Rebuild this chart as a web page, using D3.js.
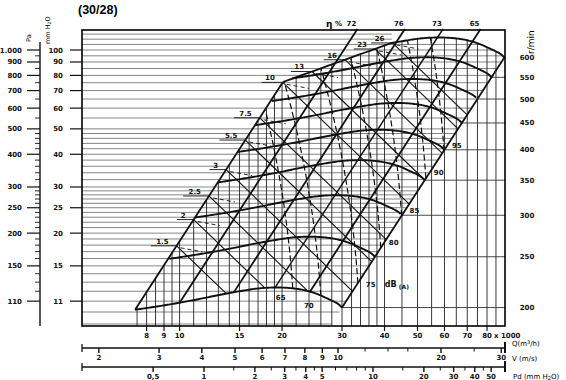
<!DOCTYPE html>
<html>
<head>
<meta charset="utf-8">
<script src="https://cdn.jsdelivr.net/npm/d3@7"></script>
<style>
  body { margin: 0; background: #fff; }
  svg { display: block; font-family: "DejaVu Sans", sans-serif; }
  .num { font-size: 7px; font-weight: bold; fill: #111; }
</style>
</head>
<body>
<div id="chart"></div>
<script>
var width = 566, height = 380;
var frame = { left: 82, right: 505, top: 30, bottom: 326 };

// ---- values ----
var qTicks = [8, 9, 10, 15, 20, 30, 40, 50, 60, 70, 80];          // Q x 1000 m3/h
var qGrid = [7.5, 8, 8.5, 9, 9.5, 10, 11, 12, 13, 14, 15, 16, 17, 18, 19, 20,
  22, 24, 26, 28, 30, 32, 34, 36, 38, 40, 45, 50, 55, 60, 65, 70, 75, 80, 85];
var mmTicks = [11, 15, 20, 25, 30, 40, 50, 60, 70, 80, 90, 100];  // mm H2O
var mmGrid = [9, 10, 11, 12, 13, 14, 15, 16, 17, 18, 19, 20, 21, 22, 23, 24, 25,
  26, 27, 28, 29, 30, 32, 34, 36, 38, 40, 42, 44, 46, 48, 50, 55, 60, 65, 70, 75,
  80, 85, 90, 95, 100, 105, 110, 115];
var paTicks = [110, 150, 200, 250, 300, 400, 500, 600, 700, 800, 900, 1000];
var paMinor = [120, 130, 140, 160, 170, 180, 190, 210, 220, 230, 240, 260, 270, 280,
  290, 320, 340, 360, 380, 420, 440, 460, 480, 550, 650, 750, 850, 950];
var rpmTicks = [200, 250, 300, 350, 400, 450, 500, 550, 600];
var vTicks = [2, 3, 4, 5, 6, 7, 8, 9, 10, 20, 30];                 // m/s
var vMinor = [12, 14, 16, 25];
var pdTicks = [0.5, 1, 2, 3, 4, 5, 10, 20, 30, 40, 50];            // mm H2O
var pdMinor = [1.5, 2.5, 3.5, 4.5, 6, 7, 8, 9, 15, 25, 35, 45];

// fan curve at 200 r/min (Q x1000 m3/h, p mm H2O)
var fanQ = [7.4, 9, 11, 13, 15, 17, 19, 21, 23, 25, 27, 29, 30];
var fanP = [10.2, 10.6, 11.1, 11.6, 12.0, 12.3, 12.4, 12.35, 12.15, 11.8, 11.3, 10.8, 10.4];

// efficiency lines: flow where each line reaches the top of the chart
var effLabels = ["72", "76", "73", "65"];
var effTopQ = [33.3, 45.9, 59.4, 76.6];

// absorbed power lines: label and flow where each leaves the envelope edge
var powerLabels = ["1.5", "2", "2.5", "3", "5.5", "7.5", "10", "13", "16", "23", "26"];
var powerStartQ = [9.8, 11.0, 12.2, 13.7, 15.6, 17.2, 20.1, 24.5, 30.6, 37.5, 42.2];

// sound level curves dB(A): flow at the lower end of each
var dbLabels = ["65", "70", "75", "80", "85", "90", "95"];
var dbEndQ = [21.5, 26, 33.4, 39, 44.9, 52.9, 59.8];

// envelope limits
var leftEdge = [7.4, 10.2];     // point on the left system curve
var rightEdge = [30, 10.4];     // point on the right system curve
var topEdgeQ = [20.1, 46], topEdgeP = [75.5, 111];

// ---- scales ----
var x = d3.scaleLog().domain([30, 80]).range([342, 487]);
var y = d3.scaleLog().domain([100, 10]).range([50, 312]);
var yPa = d3.scaleLog().domain([1000, 100]).range([50, 312]);
var yRpm = d3.scaleLog().domain([200, 600]).range([y(rightEdge[1]), y(rightEdge[1] * 9)]);
var xV = d3.scaleLog().domain([10, 20]).range([338, 441]);
var xPd = d3.scaleLog().domain([1, 10]).range([204, 373]);

var lg = Math.log10;

// smooth the base fan curve (catmull-rom in log space)
function smooth(xs, ys, steps) {
  var pts = xs.map(function(q, i) { return [lg(q), lg(ys[i])]; });
  var out = [];
  for (var i = 0; i < pts.length - 1; i++) {
    var p0 = pts[Math.max(i - 1, 0)], p1 = pts[i], p2 = pts[i + 1], p3 = pts[Math.min(i + 2, pts.length - 1)];
    for (var s = 0; s < steps; s++) {
      var t = s / steps, t2 = t * t, t3 = t2 * t;
      out.push([0, 1].map(function(j) {
        return 0.5 * (2 * p1[j] + (-p0[j] + p2[j]) * t + (2 * p0[j] - 5 * p1[j] + 4 * p2[j] - p3[j]) * t2 +
          (-p0[j] + 3 * p1[j] - 3 * p2[j] + p3[j]) * t3);
      }));
    }
  }
  out.push(pts[pts.length - 1]);
  return out;
}
var base = smooth(fanQ, fanP, 8);
var baseLQ = base.map(function(d) { return d[0]; });
var baseLP = base.map(function(d) { return d[1]; });

function arcP(n, Q) {
  var lk = lg(n / 200), lq = lg(Q) - lk;
  if (lq < baseLQ[0] || lq > baseLQ[baseLQ.length - 1]) return null;
  var i = Math.min(d3.bisectRight(baseLQ, lq) - 1, baseLQ.length - 2);
  var t = (lq - baseLQ[i]) / (baseLQ[i + 1] - baseLQ[i]);
  return Math.pow(10, baseLP[i] + t * (baseLP[i + 1] - baseLP[i]) + 2 * lk);
}
function pLeft(Q) { return leftEdge[1] * Math.pow(Q / leftEdge[0], 2); }
function pRight(Q) { return rightEdge[1] * Math.pow(Q / rightEdge[0], 2); }
function pTopEdge(Q) {
  var s = (lg(topEdgeP[1]) - lg(topEdgeP[0])) / (lg(topEdgeQ[1]) - lg(topEdgeQ[0]));
  return topEdgeP[0] * Math.pow(Q / topEdgeQ[0], s);
}
var nMin = rpmTicks[0], nMax = rpmTicks[rpmTicks.length - 1];
function pTop(Q) {
  var v = Math.min(pLeft(Q), pTopEdge(Q));
  var a = arcP(nMax, Q);
  if (a != null) v = Math.min(v, a);
  else if (Q > fanQ[fanQ.length - 1] * nMax / 200) v = Math.min(v, pRight(Q));
  return v;
}
function pBot(Q) {
  var a = arcP(nMin, Q);
  return a != null ? a : pRight(Q);
}
function logSteps(a, b, n) {
  return d3.range(n + 1).map(function(i) { return Math.pow(10, lg(a) + (lg(b) - lg(a)) * i / n); });
}

// where the top edge meets the highest speed curve
var qMin = x.invert(frame.left), qMax = x.invert(frame.right);
var qCross = logSteps(fanQ[0] * nMax / 200, qMax, 600).find(function(q) {
  var a = arcP(nMax, q);
  return a != null && pTopEdge(q) >= a;
});

var svg = d3.select("#chart").append("svg").attr("width", width).attr("height", height);

// title
svg.append("text").attr("x", 78).attr("y", 14)
  .style("font-family", "'Liberation Sans', Arial, sans-serif")
  .style("font-size", "12.5px").style("font-weight", "bold").text("(30/28)");

// ---- grid ----
var grid = svg.append("g");
mmGrid.forEach(function(p) {
  var yy = y(p);
  if (yy < frame.top + 1 || yy > frame.bottom - 1) return;
  var qs = logSteps(qMin, qMax, 800);
  var qEnd = qs.find(function(q) {
    if (p < pRight(q)) return true;
    var a = arcP(nMax, q);
    return q >= qCross && a != null && p > a;
  }) || qMax;
  grid.append("line")
    .attr("x1", frame.left).attr("x2", Math.min(x(qEnd), frame.right))
    .attr("y1", yy).attr("y2", yy)
    .attr("stroke", "#777").attr("stroke-width", 0.9);
});
qGrid.forEach(function(q) {
  grid.append("line")
    .attr("x1", x(q)).attr("x2", x(q))
    .attr("y1", frame.bottom).attr("y2", Math.max(y(pTop(q)), frame.top))
    .attr("stroke", "#222").attr("stroke-width", 0.9);
});
// speed leader lines to the right frame
rpmTicks.forEach(function(n) {
  var k = n / 200;
  grid.append("line")
    .attr("x1", x(rightEdge[0] * k)).attr("x2", frame.right)
    .attr("y1", yRpm(n)).attr("y2", yRpm(n))
    .attr("stroke", "#333").attr("stroke-width", 0.9);
});

var line = d3.line().x(function(d) { return x(d[0]); }).y(function(d) { return y(d[1]); });

// ---- envelope side limits ----
var marks = svg.append("g").attr("fill", "none").attr("stroke", "#111");
var qLeftTop = topEdgeQ[0];
marks.append("path").attr("stroke-width", 1.8)
  .attr("d", line([[leftEdge[0], leftEdge[1]], [qLeftTop, pLeft(qLeftTop)]]));
marks.append("path").attr("stroke-width", 1.8)
  .attr("d", line(logSteps(qLeftTop, qCross, 20).map(function(q) { return [q, pTopEdge(q)]; })));
marks.append("path").attr("stroke-width", 1.8)
  .attr("d", line([[rightEdge[0], rightEdge[1]], [rightEdge[0] * nMax / 200, pRight(rightEdge[0] * nMax / 200)]]));

// ---- fan curves ----
rpmTicks.forEach(function(n) {
  var k = n / 200;
  var pts = logSteps(fanQ[0] * k, fanQ[fanQ.length - 1] * k, 160)
    .map(function(q) { return [q, arcP(n, q)]; })
    .filter(function(d) { return d[1] != null && d[1] <= Math.min(pLeft(d[0]), pTopEdge(d[0])) * 1.002; });
  marks.append("path").attr("stroke-width", 1.9).attr("d", line(pts));
});

// ---- efficiency lines ----
effTopQ.forEach(function(qt, i) {
  var pt = y.invert(frame.top - 1);
  var c = pt / (qt * qt);
  var qb = logSteps(qt, 5, 800).find(function(q) { return c * q * q <= pBot(q); });
  marks.append("path").attr("stroke-width", i === 2 ? 1.4 : 1.8)
    .attr("d", line([[qt, pt], [qb, c * qb * qb]]));
  svg.append("text").attr("class", "num").attr("x", x(qt) - 6).attr("y", 26)
    .attr("text-anchor", "middle").text(effLabels[i]);
});
svg.append("text").attr("x", 326).attr("y", 27)
  .style("font-size", "9px").style("font-weight", "bold").text("η");
svg.append("text").attr("class", "num").attr("x", 335).attr("y", 26).text("%");

// ---- absorbed power lines ----
var powerExp = 1.25;
powerStartQ.forEach(function(q0, i) {
  var p0 = pTop(q0);
  var q1 = logSteps(q0, 200, 1200).find(function(q) {
    return p0 * Math.pow(q0 / q, powerExp) < pBot(q);
  });
  marks.append("path").attr("stroke-width", 1.1)
    .attr("d", line([[q0, p0], [q1, p0 * Math.pow(q0 / q1, powerExp)]]));
  var xs = x(q0), ys = y(p0);
  var lab = powerLabels[i];
  var tw = lab.length * 4.6;
  svg.append("text").attr("class", "num").attr("x", xs - 8).attr("y", ys - 2)
    .attr("text-anchor", "end").text(lab);
  marks.append("line").attr("stroke-width", 0.9)
    .attr("x1", xs - 12 - tw).attr("x2", xs).attr("y1", ys).attr("y2", ys);
  marks.append("line").attr("stroke-width", 0.9).attr("stroke-dasharray", "4,3")
    .attr("x1", xs + 4).attr("x2", xs + 26).attr("y1", ys + 2).attr("y2", ys + 6);
});

// ---- sound level curves ----
dbEndQ.forEach(function(qe, i) {
  var pe = pBot(qe);
  var pts = [];
  logSteps(pe, 130, 200).some(function(p) {
    var L = lg(p / pe);
    var q = qe * Math.pow(10, -0.05 * L - 0.1 * L * L);
    if (p > pTop(q)) return true;
    pts.push([q, p]);
    return false;
  });
  marks.append("path").attr("stroke-width", 1.2).attr("stroke-dasharray", "6,3")
    .attr("d", line(pts));
  var xe = x(qe), ye = y(pe);
  var onBottom = qe < rightEdge[0];
  var t = svg.append("text").attr("class", "num")
    .attr("x", onBottom ? xe - 12 : xe + 8)
    .attr("y", onBottom ? ye + 12 : ye + (i === 2 ? 4 : -3))
    .attr("text-anchor", onBottom ? "middle" : "start")
    .text(dbLabels[i]);
  if (i === 2) {
    svg.append("text").attr("class", "num").attr("x", xe + 27).attr("y", ye + 4)
      .style("font-size", "8px").text("dB");
    svg.append("text").attr("class", "num").attr("x", xe + 41).attr("y", ye + 6)
      .style("font-size", "6px").text("(A)");
  }
});

// ---- frame ----
svg.append("rect")
  .attr("x", frame.left).attr("y", frame.top)
  .attr("width", frame.right - frame.left).attr("height", frame.bottom - frame.top)
  .attr("fill", "none").attr("stroke", "#000").attr("stroke-width", 1.6);

// ---- left axes ----
var axes = svg.append("g").attr("stroke", "#111");
axes.append("line").attr("x1", 40).attr("x2", 40).attr("y1", 42).attr("y2", frame.bottom)
  .attr("stroke-width", 1.4);
paTicks.forEach(function(v) {
  axes.append("line").attr("x1", 27).attr("x2", 40).attr("y1", yPa(v)).attr("y2", yPa(v)).attr("stroke-width", 1.2);
  svg.append("text").attr("class", "num").attr("x", 22).attr("y", yPa(v) + 2.5)
    .attr("text-anchor", "end").text(v === 1000 ? "1.000" : v);
});
paMinor.forEach(function(v) {
  axes.append("line").attr("x1", 35).attr("x2", 40).attr("y1", yPa(v)).attr("y2", yPa(v)).attr("stroke-width", 0.9);
});
svg.append("text").attr("transform", "translate(31,42) rotate(-90)")
  .style("font-size", "6.5px").text("Pa");
mmTicks.forEach(function(v) {
  axes.append("line").attr("x1", 70).attr("x2", frame.left).attr("y1", y(v)).attr("y2", y(v)).attr("stroke-width", 1.2);
  svg.append("text").attr("class", "num").attr("x", 63).attr("y", y(v) + 2.5)
    .attr("text-anchor", "end").text(v);
});
svg.append("text").attr("transform", "translate(50,44) rotate(-90)")
  .style("font-size", "6.5px").html("mm H<tspan dy='1' font-size='4.5'>2</tspan><tspan dy='-1'>O</tspan>");

// ---- right speed axis ----
rpmTicks.forEach(function(n) {
  svg.append("text").attr("class", "num").attr("x", 527).attr("y", yRpm(n) + 2.5)
    .attr("text-anchor", "middle").text(n);
});
svg.append("text").attr("transform", "translate(534,54) rotate(-90)")
  .style("font-size", "9px").text("r/min");

// ---- bottom scales ----
qTicks.forEach(function(q) {
  axes.append("line").attr("x1", x(q)).attr("x2", x(q)).attr("y1", frame.bottom).attr("y2", frame.bottom + 5).attr("stroke-width", 1.2);
  svg.append("text").attr("class", "num").attr("x", x(q)).attr("y", 338)
    .attr("text-anchor", "middle").text(q);
});
svg.append("text").attr("class", "num").attr("x", x(80) + 7).attr("y", 338).text("x 1000");

function bottomScale(yLine, scale, ticks, minor, labelY, fmt) {
  axes.append("line").attr("x1", frame.left).attr("x2", frame.right).attr("y1", yLine).attr("y2", yLine).attr("stroke-width", 1.3);
  axes.append("line").attr("x1", frame.left).attr("x2", frame.left).attr("y1", yLine - 4).attr("y2", yLine + 4).attr("stroke-width", 1.3);
  axes.append("line").attr("x1", frame.right).attr("x2", frame.right).attr("y1", yLine - 6).attr("y2", yLine + 5).attr("stroke-width", 2);
  ticks.forEach(function(v) {
    axes.append("line").attr("x1", scale(v)).attr("x2", scale(v)).attr("y1", yLine).attr("y2", yLine + 5).attr("stroke-width", 1.4);
    svg.append("text").attr("class", "num").attr("x", scale(v)).attr("y", labelY)
      .attr("text-anchor", "middle").text(fmt(v));
  });
  minor.forEach(function(v) {
    axes.append("line").attr("x1", scale(v)).attr("x2", scale(v)).attr("y1", yLine).attr("y2", yLine + 3.5).attr("stroke-width", 1);
  });
}
bottomScale(348, xV, vTicks, vMinor, 360, function(v) { return v; });
bottomScale(367, xPd, pdTicks, pdMinor, 379, function(v) { return v === 0.5 ? "0,5" : v; });

svg.append("text").attr("x", 512).attr("y", 346).style("font-size", "7px")
  .html("Q(m<tspan dy='-2' font-size='5'>3</tspan><tspan dy='2'>/h)</tspan>");
svg.append("text").attr("x", 512).attr("y", 361).style("font-size", "7px").text("V (m/s)");
svg.append("text").attr("x", 513).attr("y", 379).style("font-size", "7px")
  .html("Pd (mm H<tspan dy='1' font-size='5'>2</tspan><tspan dy='-1'>O)</tspan>");
</script>
</body>
</html>
